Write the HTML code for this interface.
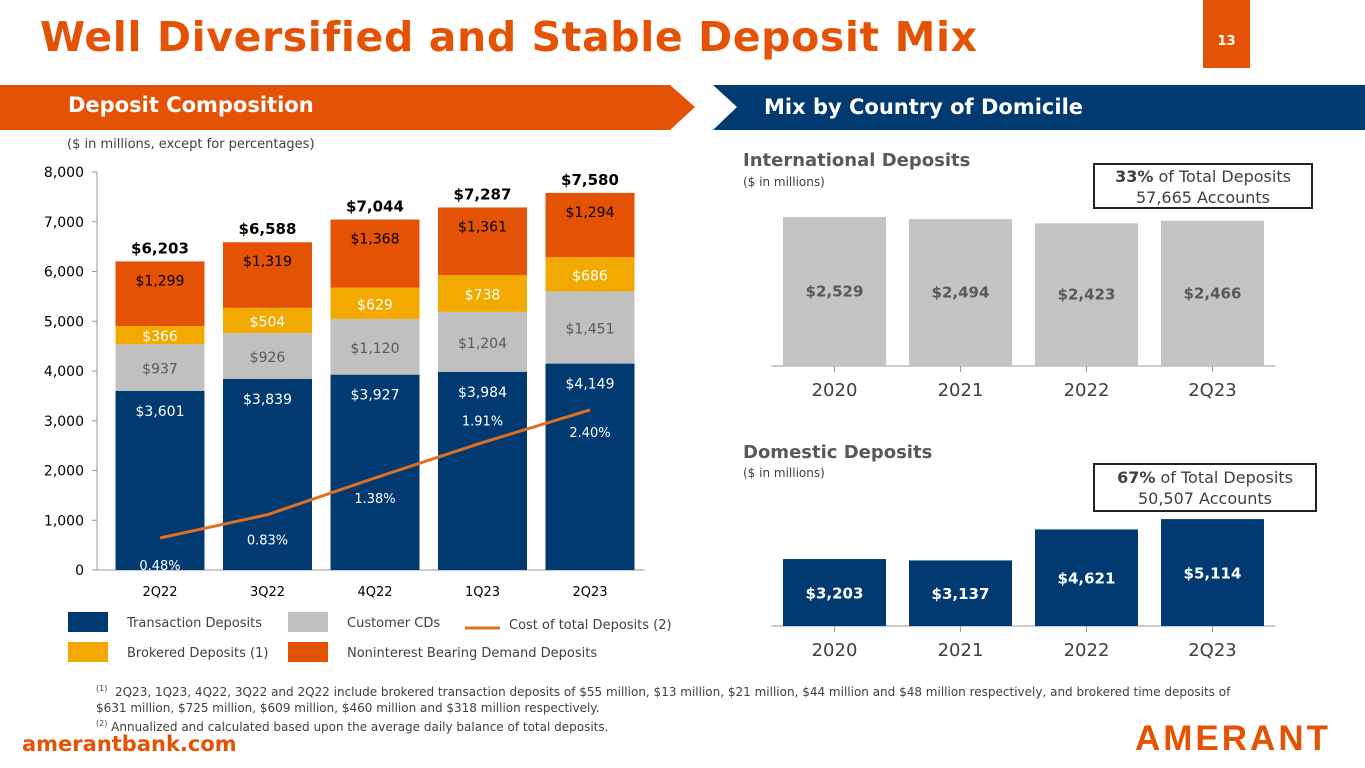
<!DOCTYPE html>
<html><head><meta charset="utf-8">
<style>
body{margin:0;width:1365px;height:768px;overflow:hidden;background:#fff;font-family:"DejaVu Sans","Liberation Sans",sans-serif;position:relative}
.abs{position:absolute}
</style></head><body>
<div class="abs" style="left:40px;top:13px;font-size:41px;font-weight:bold;color:#e35205;letter-spacing:0.6px">Well Diversified and Stable Deposit Mix</div>
<div class="abs" style="left:1203px;top:0;width:47px;height:68px;background:#e35205;color:#fff;font-size:13px;font-weight:bold;text-align:center;line-height:84px">13</div>
<svg class="abs" style="left:0;top:0" width="1365" height="768">
<polygon points="0,85 670,85 695,107 670,130 0,130" fill="#e35205"/>
<polygon points="713,85 1365,85 1365,130 713,130 737,107" fill="#003a70"/>
<g id="left"></g><g id="right"></g>
</svg>
<div class="abs" style="left:68px;top:93px;font-size:21px;font-weight:bold;color:#fff">Deposit Composition</div>
<div class="abs" style="left:764px;top:95px;font-size:21px;font-weight:bold;color:#fff">Mix by Country of Domicile</div>
<div class="abs" style="left:67px;top:137px;font-size:13px;color:#404040">($ in millions, except for percentages)</div>
<div class="abs" style="left:743px;top:150px;font-size:18px;font-weight:bold;color:#595959">International Deposits</div>
<div class="abs" style="left:743px;top:175px;font-size:12px;color:#404040">($ in millions)</div>
<div class="abs" style="left:1093px;top:163px;width:220px;height:46px;border:2px solid #222;font-size:16px;color:#404040;text-align:center;line-height:21px;box-sizing:border-box;padding-top:1px"><b>33%</b> of Total Deposits<br>57,665 Accounts</div>
<div class="abs" style="left:743px;top:442px;font-size:18px;font-weight:bold;color:#595959">Domestic Deposits</div>
<div class="abs" style="left:743px;top:466px;font-size:12px;color:#404040">($ in millions)</div>
<div class="abs" style="left:1093px;top:463px;width:224px;height:49px;border:2px solid #222;font-size:16px;color:#404040;text-align:center;line-height:21px;box-sizing:border-box;padding-top:2px"><b>67%</b> of Total Deposits<br>50,507 Accounts</div>
<div class="abs" style="left:96px;top:681px;width:1230px;font-size:12px;color:#404040;line-height:16px"><sup style="font-size:8px">(1)</sup>&nbsp; 2Q23, 1Q23, 4Q22, 3Q22 and 2Q22  include brokered transaction deposits of $55 million, $13 million, $21 million, $44 million and $48 million respectively, and brokered time deposits of<br>$631 million,  $725 million,  $609 million, $460 million and $318 million respectively.<br><sup style="font-size:8px">(2)</sup> Annualized and calculated based upon the average daily balance of total deposits.</div>
<div class="abs" style="left:22px;top:732px;font-size:21px;font-weight:bold;color:#e35205">amerantbank.com</div>
<div class="abs" style="left:1135px;top:719px;font-size:35px;font-weight:bold;color:#e35205;letter-spacing:3px;font-family:'Liberation Sans',sans-serif">AMERANT</div>
<script>
const quarters=["2Q22","3Q22","4Q22","1Q23","2Q23"];
const transaction=[3601,3839,3927,3984,4149];
const cds=[937,926,1120,1204,1451];
const brokered=[366,504,629,738,686];
const nonint=[1299,1319,1368,1361,1294];
const totals=[6203,6588,7044,7287,7580];
const costPct=[0.48,0.83,1.38,1.91,2.40];
const yTicks=[0,1000,2000,3000,4000,5000,6000,7000,8000];
const years=["2020","2021","2022","2Q23"];
const intl=[2529,2494,2423,2466];
const dom=[3203,3137,4621,5114];
const NS="http://www.w3.org/2000/svg";
function mk(parent,tag,attrs,text){const e=document.createElementNS(NS,tag);for(const k in attrs)e.setAttribute(k,attrs[k]);if(text!==undefined)e.textContent=text;parent.appendChild(e);return e;}
const fmt=v=>"$"+v.toLocaleString("en-US");
const L=document.getElementById("left");
const y=v=>570-v*398/8000;
const xc=i=>160+i*107.5;
const yp=p=>570-p*66.7;
mk(L,"line",{x1:97,y1:172,x2:97,y2:570,stroke:"#999"});
mk(L,"line",{x1:97,y1:570,x2:645,y2:570,stroke:"#999"});
yTicks.forEach(t=>{
 const tl=mk(L,"line",{x1:92,y1:y(t),x2:97,y2:y(t),stroke:"#999"});
 
 const tx=mk(L,"text",{x:84,y:y(t)+5,"text-anchor":"end","font-size":14,fill:"#000"},t.toLocaleString("en-US"));
 
});
const series=[[transaction,"#003a70","#fff"],[cds,"#c0c0c0","#595959"],[brokered,"#f2a900","#fff"],[nonint,"#e35205","#000"]];
quarters.forEach((q,i)=>{
 let base=0;
 series.forEach(([arr,col,tc],si)=>{
  const v=arr[i];
  const r=mk(L,"rect",{x:xc(i)-44.5,y:y(base+v),width:89,height:y(base)-y(base+v),fill:col});
  
  const ly=si==0?y(base+v)+25:(si==3?y(base+v)+24:(y(base)+y(base+v))/2+6);
  const t=mk(L,"text",{x:xc(i),y:ly,"text-anchor":"middle","font-size":14,fill:tc},fmt(v));
  
  base+=v;
 });
 const tt=mk(L,"text",{x:xc(i),y:y(totals[i])-8,"text-anchor":"middle","font-size":15,"font-weight":"bold",fill:"#000"},fmt(totals[i]));
 
 const xl=mk(L,"text",{x:xc(i),y:596,"text-anchor":"middle","font-size":13,fill:"#000"},q);
 
 const pl=mk(L,"text",{x:xc(i),y:yp(costPct[i])+( [32,30,25,-17,27][i] ),"text-anchor":"middle","font-size":13,fill:"#fff"},costPct[i].toFixed(2)+"%");
 
});
const line=mk(L,"polyline",{points:costPct.map((p,i)=>xc(i)+","+yp(p)).join(" "),fill:"none",stroke:"#e07020","stroke-width":3});

const leg=[[68,612,"#003a70","Transaction Deposits"],[288,612,"#c0c0c0","Customer CDs"],[68,642,"#f2a900","Brokered Deposits (1)"],[288,642,"#e35205","Noninterest Bearing Demand Deposits"]];
leg.forEach(([lx,ly,c,lab])=>{
 const r=mk(L,"rect",{x:lx,y:ly,width:40,height:20,fill:c});
 const t=mk(L,"text",{x:lx+59,y:ly+15,"font-size":13,fill:"#404040"},lab);
});
mk(L,"line",{x1:465,y1:628,x2:500,y2:628,stroke:"#e07020","stroke-width":3});
const lt=mk(L,"text",{x:509,y:629,"font-size":13,fill:"#404040"},"Cost of total Deposits (2)");

const R=document.getElementById("right");
const rx=i=>834.5+i*126;
function small(arr,base,scale,col,tc,lblY){
 mk(R,"line",{x1:771,y1:base,x2:1275,y2:base,stroke:"#999"});
 arr.forEach((v,i)=>{
  const h=v*scale;
  const r=mk(R,"rect",{x:rx(i)-51.5,y:base-h,width:103,height:h,fill:col});
  
  const t=mk(R,"text",{x:rx(i),y:lblY(h,base),"text-anchor":"middle","font-size":15,"font-weight":"bold",fill:tc},fmt(v));
  
  mk(R,"line",{x1:rx(i),y1:base,x2:rx(i),y2:base+6,stroke:"#999"});
  const xl=mk(R,"text",{x:rx(i),y:base+30,"text-anchor":"middle","font-size":18,fill:"#404040"},years[i]);
  
 });
}
small(intl,366,0.0589,"#c4c4c4","#595959",(h,b)=>b-h/2+5);
small(dom,626,0.0209,"#003a70","#fff",(h,b)=>b-h/2+6);
</script>
</body></html>
